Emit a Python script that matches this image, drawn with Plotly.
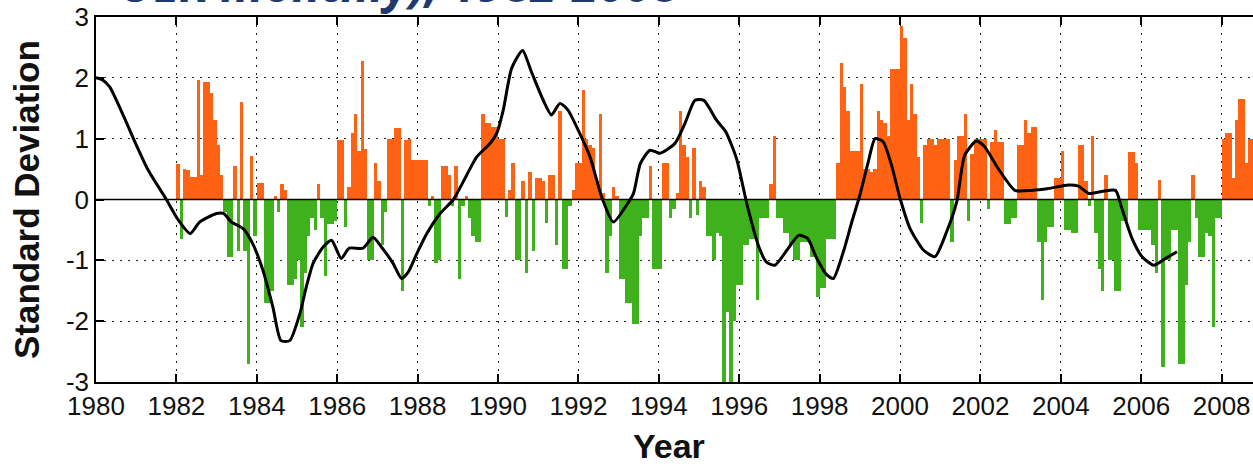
import plotly.graph_objects as go

# ---- data -------------------------------------------------------------
start_year = 1982
y1982 = [0.58, -0.65, 0.5, 0.48, 0.37, 0.37, 1.96, 0.4, 1.93, 1.93, 1.75, 1.3]
y1983 = [0.9, 0.4, -0.2, -0.95, -0.95, 0.55, -0.85, 1.6, -0.85, -2.7, 0.72, -0.6]
y1984 = [0.27, 0.27, -1.7, -1.7, -1.5, 0.05, -0.2, 0.25, 0.15, -1.4, -1.4, -1.3]
y1985 = [-1.0, -2.1, -1.2, -0.6, -0.3, -0.5, 0.25, -0.3, -1.25, -0.4, -0.4, -0.35]
y1986 = [0.97, 0.97, -0.45, 0.2, 1.1, 1.4, 0.8, 2.27, 0.83, -1.0, -1.0, 0.6]
y1987 = [0.3, -0.75, -0.2, 1.0, 1.0, 1.17, 1.17, -1.5, 0.97, 1.0, 0.65, 0.65]
y1988 = [0.65, 0.65, 0.65, -0.1, 0.05, -1.05, -1.0, 0.55, 0.55, 0.4, -0.1, 0.55]
y1989 = [-1.3, -0.1, 0.05, -0.3, -0.6, -0.7, -0.7, 1.4, 1.25, 1.25, 1.2, 1.2]
y1990 = [1.0, 1.0, -0.28, 0.15, 0.6, -1.0, -1.0, 0.3, -1.2, 0.45, -0.85, 0.35]
y1991 = [0.35, 0.3, -0.38, 0.4, 0.4, -0.75, 1.45, -1.15, -1.15, -0.1, 0.15, 0.6]
y1992 = [0.6, 1.8, 1.0, 0.9, 0.85, 0.3, 1.4, 0.1, -1.2, -0.6, 0.2, 0.05]
y1993 = [-1.3, -1.3, -1.7, -1.7, -2.05, -2.05, -0.6, -0.3, -0.3, 0.55, -1.15, -1.15]
y1994 = [-1.15, 0.6, 0.6, -0.3, -0.15, 0.1, 1.45, 0.9, 0.7, -0.3, 0.85, -0.25]
y1995 = [0.3, 0.2, -0.6, -0.6, -1.0, -0.55, -0.6, -3.0, -1.85, -3.0, -2.0, -1.4]
y1996 = [-1.4, -0.75, -0.75, -0.65, -0.65, -1.65, -0.3, -0.3, -0.3, 0.25, 1.05, -0.3]
y1997 = [-0.3, -0.55, -0.55, -0.75, -1.0, -1.0, -0.7, -0.7, -0.7, -0.95, -0.95, -1.6]
y1998 = [-1.45, -1.45, -0.65, -0.65, -0.65, 0.6, 2.25, 1.85, 1.45, 0.8, 0.8, 0.8]
y1999 = [1.9, 0.5, 0.5, 0.45, 0.5, 1.45, 1.3, 1.25, 1.05, 2.15, 2.15, 2.15]
y2000 = [2.85, 2.65, 1.3, 1.9, 1.4, 0.7, -0.38, 0.9, 1.0, 1.0, 0.9, 1.0]
y2001 = [1.0, 1.0, 1.0, -0.7, 0.65, 1.05, 1.05, 1.4, -0.35, 0.75, 1.0, 1.0]
y2002 = [1.0, 1.0, -0.15, 0.95, 1.15, 0.95, 0.95, -0.4, -0.4, -0.3, -0.3, 0.9]
y2003 = [0.9, 1.3, 1.1, 1.2, 1.2, -0.7, -1.65, -0.7, -0.45, -0.45, 0.35, 0.35]
y2004 = [0.8, -0.5, -0.5, -0.55, -0.55, 0.9, 0.9, 0.3, -0.1, 1.05, -0.55, -1.15]
y2005 = [-1.5, 0.4, -1.0, -1.0, -1.5, -1.5, -0.35, -0.35, 0.78, 0.78, 0.6, -0.5]
y2006 = [-0.5, -0.5, -0.5, -0.75, -1.2, 0.32, -2.75, -1.0, -1.0, -0.5, -0.5, -2.7]
y2007 = [-2.7, -1.4, -0.7, 0.4, -0.3, -0.95, -0.95, -0.55, -0.6, -2.1, -0.3, -0.3]
y2008 = [1.0, 1.1, 1.1, 0.35, 1.3, 1.65, 1.65, 0.6, 1.0, 1.0]

# smoothed curve (year, value)
smooth_years = [1980.0, 1980.15, 1980.34, 1980.7, 1981.0, 1981.3, 1981.75, 1982.05, 1982.34,
                1982.58, 1983.0, 1983.17, 1983.37, 1983.66, 1983.9, 1984.15, 1984.4, 1984.6,
                1984.82, 1985.07, 1985.23, 1985.4, 1985.65, 1985.86, 1986.1, 1986.3, 1986.64,
                1986.89, 1987.1, 1987.39, 1987.6, 1987.77, 1987.98, 1988.23, 1988.56, 1988.89,
                1989.22, 1989.47, 1989.8, 1989.97, 1990.13, 1990.34, 1990.61, 1990.83, 1991.12,
                1991.33, 1991.54, 1991.74, 1992.03, 1992.29, 1992.58, 1992.87, 1993.2, 1993.37,
                1993.54, 1993.78, 1994.03, 1994.4, 1994.65, 1994.9, 1995.12, 1995.44, 1995.66,
                1995.93, 1996.2, 1996.5, 1996.68, 1996.89, 1997.2, 1997.48, 1997.7, 1997.93,
                1998.18, 1998.34, 1998.59, 1998.8, 1999.0, 1999.21, 1999.38, 1999.58, 1999.79,
                2000.0, 2000.25, 2000.58, 2000.87, 2001.16, 2001.41, 2001.61, 2001.9, 2002.1,
                2002.44, 2002.86, 2003.27, 2003.69, 2004.19, 2004.44, 2004.69, 2005.02, 2005.36,
                2005.52, 2005.77, 2006.02, 2006.31, 2006.6, 2006.89]
smooth_vals = [2.0, 1.97, 1.85, 1.35, 0.9, 0.48, 0.0, -0.34, -0.56,
               -0.37, -0.23, -0.23, -0.37, -0.48, -0.73, -1.16, -1.77, -2.32,
               -2.32, -1.88, -1.44, -1.05, -0.78, -0.67, -0.97, -0.8, -0.8,
               -0.62, -0.78, -1.05, -1.3, -1.19, -0.89, -0.56, -0.23, 0.0,
               0.4, 0.7, 0.92, 1.09, 1.47, 2.16, 2.45, 2.1, 1.64,
               1.39, 1.58, 1.47, 1.09, 0.7, 0.04, -0.37, -0.09, 0.1,
               0.59, 0.81, 0.76, 0.92, 1.25, 1.63, 1.63, 1.3, 1.12,
               0.68, -0.1, -0.8, -1.03, -1.08, -0.82, -0.59, -0.64, -0.97,
               -1.24, -1.3, -0.86, -0.37, 0.07, 0.62, 1.0, 0.95, 0.56,
               0.02, -0.48, -0.83, -0.94, -0.53, -0.04, 0.73, 0.96, 0.87,
               0.51, 0.15, 0.15, 0.18, 0.24, 0.22, 0.1, 0.13, 0.15,
               -0.15, -0.64, -0.94, -1.08, -0.97, -0.86]

x_tick_vals = list(range(1980, 2010, 2))
x_tick_text = [str(v) for v in x_tick_vals]
y_tick_vals = [-3, -2, -1, 0, 1, 2, 3]
y_tick_text = ["-3", "-2", "-1", "0", "1", "2", "3"]

title_text = "OLR monthly), 1982-2008"
x_title = "Year"
y_title = "Standard Deviation"

# ---- build ------------------------------------------------------------
monthly = (y1982 + y1983 + y1984 + y1985 + y1986 + y1987 + y1988 + y1989 + y1990 +
           y1991 + y1992 + y1993 + y1994 + y1995 + y1996 + y1997 + y1998 + y1999 +
           y2000 + y2001 + y2002 + y2003 + y2004 + y2005 + y2006 + y2007 + y2008)
bar_x = [start_year + (i + 0.5) / 12.0 for i in range(len(monthly))]
ORANGE = "#FF6212"
GREEN = "#3EB11C"
bar_colors = [ORANGE if v >= 0 else GREEN for v in monthly]

fig = go.Figure()
fig.add_trace(go.Bar(x=bar_x, y=monthly, width=1 / 12.0,
                     marker=dict(color=bar_colors, line=dict(width=0)),
                     showlegend=False, hoverinfo="skip"))
fig.add_trace(go.Scatter(x=smooth_years, y=smooth_vals, mode="lines",
                         line=dict(color="black", width=3, shape="spline", smoothing=0.6),
                         showlegend=False, hoverinfo="skip"))

TICKFONT = dict(family="Liberation Sans, Arial", size=26, color="#111")
GRIDDASH = "2px,6px"

fig.update_layout(
    width=1253, height=466,
    margin=dict(l=96, r=0, t=17, b=84),
    paper_bgcolor="white", plot_bgcolor="white",
    bargap=0,
    xaxis=dict(range=[1980, 2008.78], tickvals=x_tick_vals, ticktext=x_tick_text,
               ticks="inside", ticklen=8, tickwidth=1.5, tickcolor="black",
               showline=True, linecolor="black", linewidth=1.5, mirror="ticks",
               showgrid=True, gridcolor="#222", gridwidth=1.3, griddash=GRIDDASH,
               zeroline=False, tickfont=TICKFONT, ticklabeloverflow="allow"),
    yaxis=dict(range=[-3, 3], tickvals=y_tick_vals, ticktext=y_tick_text,
               ticks="inside", ticklen=8, tickwidth=1.5, tickcolor="black",
               showline=True, linecolor="black", linewidth=1.5, mirror=False,
               showgrid=True, gridcolor="#222", gridwidth=1.3, griddash=GRIDDASH,
               zeroline=False, tickfont=TICKFONT, ticklabeloverflow="allow"),
    shapes=[dict(type="line", xref="paper", yref="y", x0=0, x1=1, y0=0, y1=0,
                 line=dict(color="black", width=1.5), layer="above")],
    annotations=[
        dict(text="<b><i>" + title_text + "</i></b>", xref="paper", yref="paper",
             x=0.018, y=0.997, xanchor="left", yanchor="bottom", showarrow=False,
             font=dict(family="Open Sans", size=48, color="#1F3A6E")),
        dict(text=x_title, xref="paper", yref="paper", x=0.495, y=-0.175,
             xanchor="center", yanchor="middle", showarrow=False,
             font=dict(family="Liberation Sans, Arial", size=34,
                       color="#111", weight="bold")),
        dict(text=y_title, xref="paper", yref="paper", x=-0.06, y=0.5,
             xanchor="center", yanchor="middle", textangle=-90, showarrow=False,
             font=dict(family="Liberation Sans, Arial", size=35, color="#111", weight="bold")),
    ],
)

fig.write_html("out.html")
